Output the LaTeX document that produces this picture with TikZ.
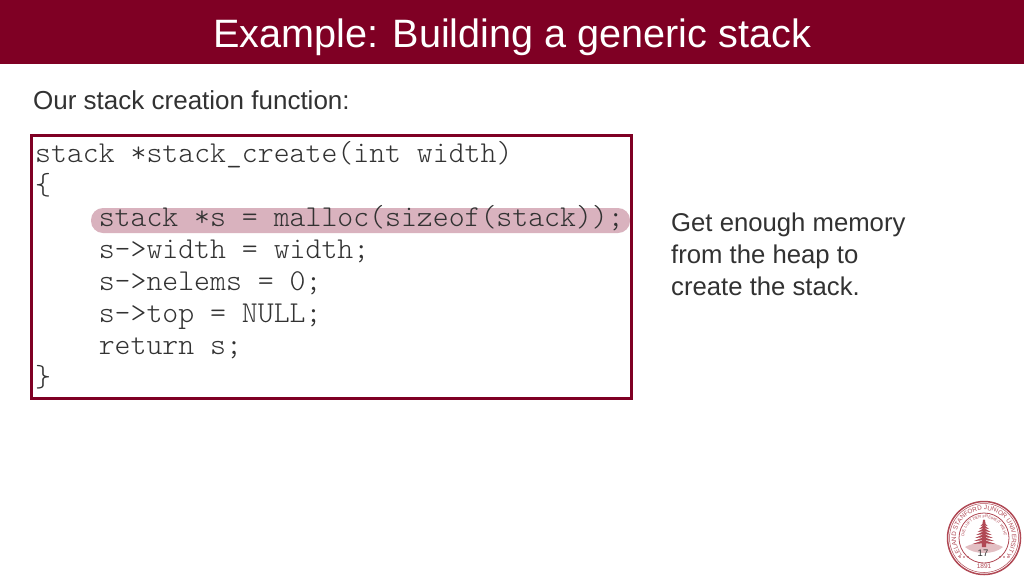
\documentclass[tikz,border=0pt]{standalone}
\usepackage{fontspec}
\setmainfont{Liberation Sans}
\setmonofont{Latin Modern Mono Light}
\usetikzlibrary{decorations.text}
\definecolor{ColHead}{RGB}{127,0,36}
\definecolor{ColHigh}{RGB}{217,178,190}
\definecolor{ColSeal}{RGB}{176,72,84}
\definecolor{ColText}{RGB}{50,50,50}
\tikzstyle{TitleText}=[anchor=base,white,font=\fontsize{39.6}{39.6}\selectfont]
\tikzstyle{BodyText}=[anchor=base west,inner sep=0pt,ColText,font=\fontsize{26}{26}\selectfont]
\tikzstyle{NoteText}=[anchor=base west,inner sep=0pt,ColText,font=\fontsize{25.7}{25.7}\selectfont]
\tikzstyle{CodeLine}=[anchor=base west,inner sep=0pt,ColText,font=\fontsize{30.3}{30.3}\ttfamily]
\tikzstyle{SealRing}=[draw=ColSeal]

\begin{document}
\begin{tikzpicture}[x=1pt,y=-1pt]
        \useasboundingbox(0,0)rectangle(1024,576);
        \fill[white](0,0)rectangle(1024,576);
        \fill[ColHead](0,0)rectangle(1024,64);
        \node[TitleText](title)at(512,47){Example: Building a generic stack};
        \node[BodyText](intro)at(33,109){Our stack creation function:};
        % highlighted line goes under the code
        \fill[ColHigh,rounded corners=12pt](91,208)rectangle(630,233);
        \draw[ColHead,line width=2.6pt](31.5,135.5)rectangle(631.5,398.5);
        \node[CodeLine](lineA)at(35,162){stack *stack\_create(int width)};
        \node[CodeLine](lineB)at(35,194){\{};
        \node[CodeLine](lineC)at(98.6,226){stack *s = malloc(sizeof(stack));};
        \node[CodeLine](lineD)at(98.6,258){s->width = width;};
        \node[CodeLine](lineE)at(98.6,290){s->nelems = 0;};
        \node[CodeLine](lineF)at(98.6,322){s->top = NULL;};
        \node[CodeLine](lineG)at(98.6,354){return s;};
        \node[CodeLine](lineH)at(35,386){\}};
        \node[NoteText](noteA)at(671,231){Get enough memory};
        \node[NoteText](noteB)at(671,263){from the heap to};
        \node[NoteText](noteC)at(671,295){create the stack.};
        % seal
        \begin{scope}[shift={(984,538)},x=1pt,y=1pt]
            \draw[SealRing,line width=1.5pt](0,0)circle(36.5);
            \draw[SealRing,line width=.5pt](0,0)circle(34.5);
            \draw[SealRing,line width=.8pt](0,0)circle(25);
            \path[postaction={decorate,decoration={text along path,text align=center,
                text={|\fontsize{6.3}{6.3}\selectfont\color{ColSeal}|LELAND STANFORD JUNIOR UNIVERSITY}}}]
                (225:28)arc[start angle=225,end angle=-45,radius=28];
            \path[postaction={decorate,decoration={text along path,text align=center,
                text={|\fontsize{4}{4}\selectfont\color{ColSeal}|DIE LUFT DER FREIHEIT WEHT}}}]
                (195:20)arc[start angle=195,end angle=-15,radius=20];
            \fill[ColSeal!35](-19,-9)..controls(-8,-3)and(8,-3)..(19,-9)
                ..controls(10,-17)and(-10,-17)..(-19,-9);
            \fill[ColSeal](-1,18)--(1,18)--(2.2,-9)--(-2.2,-9)--cycle;
            \foreach \h/\w in {19/1.5,16/3.5,13/5,10/6.5,7/8,4/9,1/10,-2/11.5}{
                \fill[ColSeal](-\w,\h-4)--(0,\h)--(\w,\h-4)--(0,\h-3.2)--cycle;
            }
            \foreach \d in {-24,-20,-16,16,20,24}{
                \fill[ColSeal](\d,-19)circle(.9);
            }
        \end{scope}
        \node[inner sep=0pt,ColSeal,font=\fontsize{6.5}{6.5}\selectfont](year)at(984,566){1891};
        \node[inner sep=0pt,ColText,font=\fontsize{9.5}{9.5}\selectfont](page)at(983,553){17};
    \end{tikzpicture}
\end{document}
